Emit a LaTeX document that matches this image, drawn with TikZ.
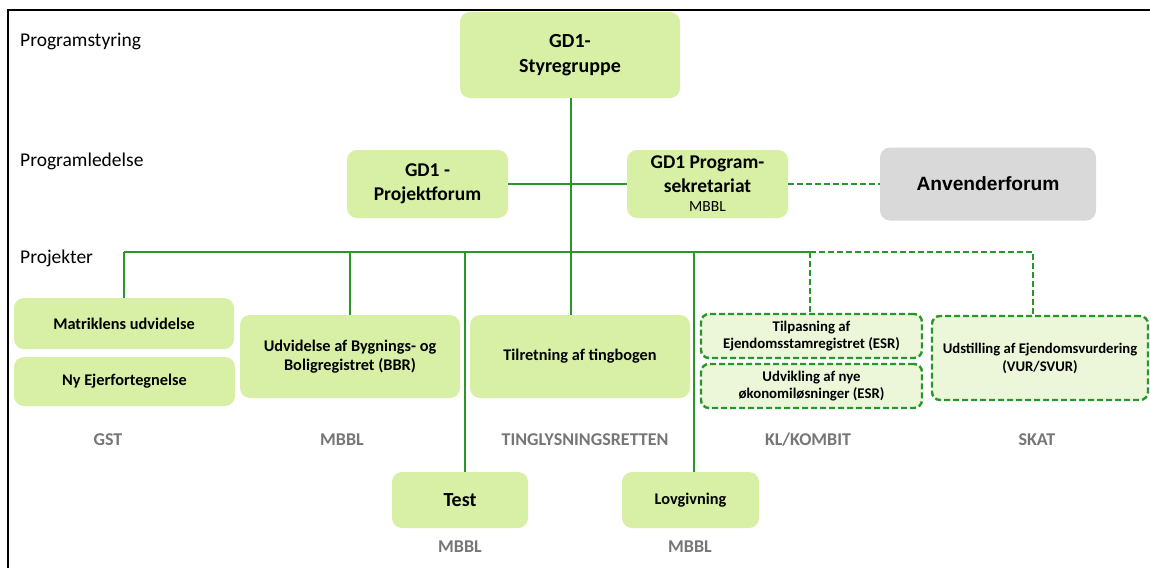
\documentclass[tikz,border=0pt]{standalone}
\usepackage{fontspec}
\setmainfont{Carlito}
\newfontfamily\arialfont{Liberation Sans}
\definecolor{lgreen}{RGB}{216,240,166}
\definecolor{llgreen}{RGB}{235,247,216}
\definecolor{lgreen2}{RGB}{40,150,40}
\definecolor{lgray}{RGB}{217,217,217}
\definecolor{tgray}{RGB}{118,118,118}
\begin{document}
\begin{tikzpicture}[x=1pt,y=-1pt,
  gbox/.style={draw=none,fill=lgreen,rounded corners=10pt,inner sep=0pt,align=center,font=\bfseries\fontsize{16.3}{19.5}\selectfont},
  dbox/.style={draw=lgreen2,line width=2.4pt,dash pattern=on 6pt off 3pt,fill=llgreen,rounded corners=8pt,inner sep=0pt,align=center,font=\bfseries\fontsize{14.8}{17.5}\selectfont},
  conn/.style={draw=lgreen2,line width=2.4pt},
  dconn/.style={draw=lgreen2,line width=2.4pt,dash pattern=on 6pt off 3pt},
  lvl/.style={anchor=west,inner sep=0pt,font=\fontsize{19.5}{23}\selectfont},
  org/.style={inner sep=0pt,text=tgray,font=\bfseries\fontsize{18}{21}\selectfont}]
\useasboundingbox (0,0) rectangle (1150,568);
\fill[white] (0,0) rectangle (1150,568);
% frame
\draw[line width=2.8pt,black] (8,568) -- (8,10) -- (1150,10);
% level labels
\node[lvl] (l1) at (20,41) {Programstyring};
\node[lvl] (l2) at (20,161) {Programledelse};
\node[lvl] (l3) at (20,258) {Projekter};
% boxes
\node[gbox,minimum width=220pt,minimum height=86pt,font=\bfseries\fontsize{20}{25}\selectfont] (sty) at (570,55) {GD1-\\Styregruppe};
\node[gbox,minimum width=161pt,minimum height=68pt,font=\bfseries\fontsize{19.5}{24}\selectfont] (pf) at (427.5,184) {GD1 -\\Projektforum};
\node[gbox,minimum width=161pt,minimum height=68pt] (ps) at (707.5,184) {};
\node[inner sep=0pt,align=center,font=\bfseries\fontsize{19.5}{24}\selectfont] (pst) at (707.5,174) {GD1 Program-\\sekretariat};
\node[inner sep=0pt,font=\fontsize{15.5}{18}\selectfont] (psm) at (707.5,207) {MBBL};
\node[gbox,fill=lgray,minimum width=216pt,minimum height=73pt,font=\arialfont\bfseries\fontsize{19.2}{23}\selectfont] (anv) at (988,184) {Anvenderforum};
\node[gbox,minimum width=220pt,minimum height=51pt] (mat) at (124,323.5) {Matriklens udvidelse};
\node[gbox,minimum width=221pt,minimum height=49pt] (ny) at (124.5,381.5) {Ny Ejerfortegnelse};
\node[gbox,minimum width=220pt,minimum height=83pt] (bbr) at (350,356.5) {Udvidelse af Bygnings- og\\Boligregistret (BBR)};
\node[gbox,minimum width=220pt,minimum height=83pt] (tin) at (580,356.5) {Tilretning af tingbogen};
\node[dbox,minimum width=221pt,minimum height=44pt] (esr) at (811.5,336) {Tilpasning af\\Ejendomsstamregistret (ESR)};
\node[dbox,minimum width=221pt,minimum height=44pt] (oko) at (811.5,386) {Udvikling af nye\\økonomiløsninger (ESR)};
\node[dbox,minimum width=216pt,minimum height=84pt,font=\bfseries\fontsize{14.7}{18}\selectfont] (vur) at (1040,358) {Udstilling af Ejendomsvurdering\\(VUR/SVUR)};
\node[gbox,minimum width=136pt,minimum height=56pt,font=\bfseries\fontsize{20}{24}\selectfont] (test) at (460,500) {Test};
\node[gbox,minimum width=137pt,minimum height=56pt] (lov) at (690.5,500) {Lovgivning};
% organisation labels
\node[org] (o1) at (108,440) {GST};
\node[org] (o2) at (342,440) {MBBL};
\node[org] (o3) at (585,440) {TINGLYSNINGSRETTEN};
\node[org] (o4) at (808,440) {KL/KOMBIT};
\node[org] (o5) at (1037,440) {SKAT};
\node[org] (o6) at (460,547) {MBBL};
\node[org] (o7) at (690,547) {MBBL};
% connectors
\coordinate (bl) at (124,252);
\coordinate (bm) at (571,252);
\coordinate (bs) at (810,252);
\coordinate (br) at (1033,252);
\draw[conn] (sty.south -| bm) -- (tin.north -| bm);
\draw[conn] (pf.east) -- (ps.west);
\draw[dconn] (ps.east) -- (anv.west);
\draw[conn] (bl) -- (bs);
\draw[conn] (bl) -- (mat.north -| bl);
\draw[conn] (350,252) -- (bbr.north -| 350,0);
\draw[conn] (465,252) -- (test.north -| 465,0);
\draw[conn] (694,252) -- (lov.north -| 694,0);
\draw[dconn] (bs) -- (br) -- (vur.north -| br);
\draw[dconn] (bs) -- (esr.north -| bs);
\end{tikzpicture}
\end{document}
